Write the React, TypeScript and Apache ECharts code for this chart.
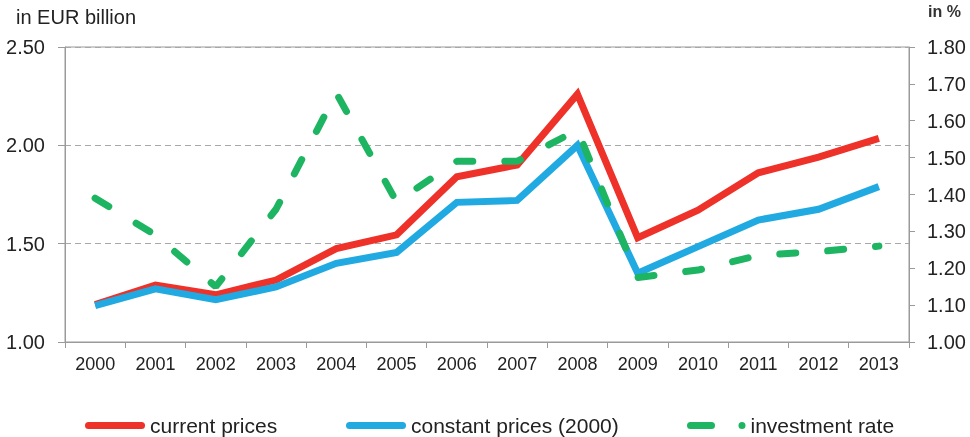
import React, { useEffect, useRef } from "react";
import * as echarts from "echarts";

const years = ["2000","2001","2002","2003","2004","2005","2006","2007","2008","2009","2010","2011","2012","2013"];
const currentPrices = [1.19, 1.29, 1.24, 1.315, 1.475, 1.545, 1.84, 1.9, 2.26, 1.53, 1.67, 1.86, 1.94, 2.035];
const constantPrices = [1.185, 1.27, 1.215, 1.28, 1.4, 1.455, 1.71, 1.72, 2.0, 1.35, 1.485, 1.62, 1.675, 1.79];
const investmentRate = [1.39, 1.29, 1.15, 1.36, 1.675, 1.38, 1.49, 1.49, 1.575, 1.175, 1.195, 1.235, 1.245, 1.26];

const leftTitle = "in EUR billion";
const rightTitle = "in %";
const seriesNames = ["current prices", "constant prices (2000)", "investment rate"];

const FONT = "'Liberation Sans', Arial, Helvetica, sans-serif";
const RED = "#EE3129";
const BLUE = "#21A9E1";
const GREEN = "#1DB561";
const AXIS = "#9a9a9a";

const capsuleIcon = "path://M3.5,0 H56.5 A3.5,3.5 0 0 1 56.5,7 H3.5 A3.5,3.5 0 0 1 3.5,0 Z";
const dashDotIcon =
  "path://M3.5,0 H24.5 A3.5,3.5 0 0 1 24.5,7 H3.5 A3.5,3.5 0 0 1 3.5,0 Z M55,0 A3.5,3.5 0 1 1 55,7 A3.5,3.5 0 1 1 55,0 Z";

export default function App() {
  const ref = useRef<HTMLDivElement>(null);
  useEffect(() => {
    if (!ref.current) return;
    const chart = echarts.init(ref.current, null, { renderer: "svg" });
    const legendText = { fontSize: 21, color: "#222", fontFamily: FONT };
    const legendBase = { padding: 0, top: 415, itemHeight: 7, textStyle: legendText };
    chart.setOption({
      animation: false,
      textStyle: { fontFamily: FONT },
      grid: { left: 65, right: 61, top: 47, bottom: 95, show: true, borderColor: AXIS, borderWidth: 1 },
      graphic: [
        { type: "text", left: 16, top: 7, style: { text: leftTitle, fontSize: 20, fill: "#222", fontFamily: FONT } },
        { type: "text", left: 928, top: 3, style: { text: rightTitle, fontSize: 16, fontWeight: "bold", fill: "#333", fontFamily: FONT } },
      ],
      legend: [
        { ...legendBase, data: [{ name: seriesNames[0], icon: capsuleIcon }], left: 85, itemWidth: 60 },
        { ...legendBase, data: [{ name: seriesNames[1], icon: capsuleIcon }], left: 346, itemWidth: 60 },
        { ...legendBase, data: [{ name: seriesNames[2], icon: dashDotIcon }], left: 687, itemWidth: 58.5 },
      ],
      xAxis: {
        type: "category",
        data: years,
        boundaryGap: true,
        axisLine: { lineStyle: { color: AXIS, width: 1 } },
        axisTick: { show: true, length: 6, interval: 0, lineStyle: { color: AXIS } },
        axisLabel: { fontSize: 18, color: "#222", margin: 13, interval: 0 },
      },
      yAxis: [
        {
          type: "value", min: 1, max: 2.5, interval: 0.5, position: "left",
          axisLine: { show: true, lineStyle: { color: AXIS } },
          axisTick: { show: true, length: 7, lineStyle: { color: AXIS } },
          axisLabel: { fontSize: 20, color: "#222", margin: 20, formatter: (v: number) => v.toFixed(2) },
          splitLine: { show: true, lineStyle: { color: "#a8a8a8", type: [6, 4], width: 1 } },
        },
        {
          type: "value", min: 1, max: 1.8, interval: 0.1, position: "right",
          axisLine: { show: true, lineStyle: { color: AXIS } },
          axisTick: { show: true, length: 6, lineStyle: { color: AXIS } },
          axisLabel: { fontSize: 20, color: "#222", margin: 18, formatter: (v: number) => v.toFixed(2) },
          splitLine: { show: false },
        },
      ],
      series: [
        {
          name: seriesNames[0], type: "line", data: currentPrices, yAxisIndex: 0,
          symbol: "none", color: RED,
          lineStyle: { color: RED, width: 7, join: "miter" },
        },
        {
          name: seriesNames[1], type: "line", data: constantPrices, yAxisIndex: 0,
          symbol: "none", color: BLUE,
          lineStyle: { color: BLUE, width: 7, join: "miter" },
        },
        {
          name: seriesNames[2], type: "line", data: investmentRate, yAxisIndex: 1,
          symbol: "none", color: GREEN,
          lineStyle: { color: GREEN, width: 7, cap: "round", type: [16, 32] },
        },
      ],
    });
    return () => chart.dispose();
  }, []);
  return <div ref={ref} style={{ position: "fixed", left: 0, top: 0, width: 970, height: 437 }} />;
}
